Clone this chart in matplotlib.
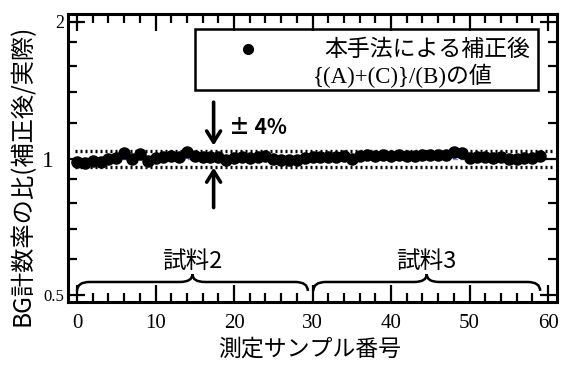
import matplotlib
matplotlib.use("Agg")
import matplotlib.pyplot as plt
from matplotlib.path import Path
from matplotlib.patches import PathPatch, Rectangle
import numpy as np

jp = 'Noto Sans CJK JP'
serif = 'Liberation Serif'

# ratio of BG count rates (corrected / actual) for each measured sample
sample2 = [0.982, 0.980, 0.990, 0.985, 1.000, 1.005, 1.030, 1.000, 1.025, 0.990,
           1.005, 1.010, 1.015, 1.010, 1.035, 1.015, 1.010, 1.010, 1.010, 0.995,
           1.005, 1.010, 1.005, 1.010, 1.013, 1.000, 0.995, 0.995, 0.995, 1.005]
sample3 = [1.008, 1.010, 1.008, 1.010, 1.012, 1.000, 1.015, 1.018, 1.015, 1.018,
           1.015, 1.018, 1.012, 1.015, 1.018, 1.018, 1.020, 1.018, 1.032, 1.028,
           1.005, 1.008, 1.008, 1.005, 1.008, 1.000, 1.000, 1.002, 1.003, 1.012]
values = sample2 + sample3
idx = np.arange(len(values))
band = [0.96, 1.04]

fig = plt.figure(figsize=(5.63, 3.65), dpi=100)
ax = fig.add_axes([0.1208, 0.173, 0.8686, 0.789])

ax.hlines(1.0, 0, 59, colors='#8080ff', linestyles='--', lw=1, zorder=1)
ax.hlines(band, -0.2, 60.6, colors='black', linestyles=(0, (0.6, 0.9)), lw=2.4, zorder=2)
ax.plot(idx, values, 'o', color='black', ms=8, zorder=3)

ax.set_yscale('log')
ax.set_xlim(-1.15, 61.15)
ax.set_ylim(0.484, 2.08)
ax.set_xticks(np.arange(0, 61, 10))
ax.set_xticks(np.arange(0, 61, 2), minor=True)
ax.set_yticks([0.5, 1, 2])
ax.set_yticklabels(['0.5', '1', '2'])
ax.set_yticks([0.6, 0.7, 0.8, 0.9, 1.2, 1.4, 1.6, 1.8], minor=True)
ax.yaxis.set_minor_formatter(matplotlib.ticker.NullFormatter())

ax.tick_params(which='both', direction='in', top=True, right=True, width=1.6)
ax.tick_params(which='major', length=12)
ax.tick_params(which='minor', length=6.5)
ax.tick_params(axis='x', pad=9)
ax.tick_params(axis='y', pad=3)
for s in ax.spines.values():
    s.set_linewidth(2.2)

for lab in ax.get_xticklabels():
    lab.set_fontfamily(serif)
    lab.set_fontsize(15)
ysizes = {'0.5': 12, '1': 17, '2': 13}
for t, lab in zip(ax.yaxis.get_major_ticks(), ax.get_yticklabels()):
    lab.set_fontfamily(serif)
    lab.set_fontsize(ysizes[lab.get_text()])
    if lab.get_text() == '1':
        t.set_pad(10)

ax.set_xlabel('測定サンプル番号', fontfamily=jp, fontsize=16.5)
ax.xaxis.set_label_coords(0.495, -0.125)
ax.set_ylabel('BG計数率の比(補正後/実際)', fontfamily=jp, fontsize=17.5)
ax.yaxis.set_label_coords(-0.066, 0.44)

# +-4% arrows
arrow = dict(arrowstyle='->,head_length=0.8,head_width=0.5', color='black',
             lw=2.6, shrinkA=0, shrinkB=0)
ax.annotate('', xy=(17.4, 1.068), xytext=(17.4, 1.33), arrowprops=arrow)
ax.annotate('', xy=(17.4, 0.955), xytext=(17.4, 0.78), arrowprops=arrow)
ax.text(19.4, 1.17, '± 4%', fontfamily=jp, fontsize=15, fontweight='bold',
        va='center', ha='left')

# legend box
ax.add_patch(Rectangle((0.26, 0.736), 0.701, 0.212, transform=ax.transAxes,
                       fill=False, lw=1.8, zorder=5))
ax.plot([0.368], [0.878], 'o', color='black', ms=7, transform=ax.transAxes,
        clip_on=False)
ax.text(0.945, 0.876, '本手法による補正後', fontfamily=jp, fontsize=16.5,
        ha='right', va='center', transform=ax.transAxes)
ax.text(0.50, 0.786, '{(A)+(C)}/(B)の値', fontfamily=[serif, jp], fontsize=16.5,
        ha='left', va='center', transform=ax.transAxes)


def brace(ax, x0, x1, label):
    yb, yl, yt = 0.038, 0.069, 0.096
    xm = (x0 + x1) / 2
    r = 1.6
    verts = [(x0, yb), (x0, yl), (x0 + r, yl), (xm - r, yl), (xm, yl), (xm, yt),
             (xm, yl), (xm + r, yl), (x1 - r, yl), (x1, yl), (x1, yb)]
    codes = [Path.MOVETO, Path.CURVE3, Path.CURVE3, Path.LINETO, Path.CURVE3,
             Path.CURVE3, Path.CURVE3, Path.CURVE3, Path.LINETO, Path.CURVE3,
             Path.CURVE3]
    ax.add_patch(PathPatch(Path(verts, codes), fill=False, lw=1.8,
                           transform=ax.get_xaxis_transform()))
    ax.text(xm, 0.142, label, fontfamily=jp, fontsize=17, ha='center',
            va='center', transform=ax.get_xaxis_transform())


brace(ax, 0, 29.4, '試料2')
brace(ax, 30.1, 59, '試料3')

fig.savefig('out.png', dpi=100)
